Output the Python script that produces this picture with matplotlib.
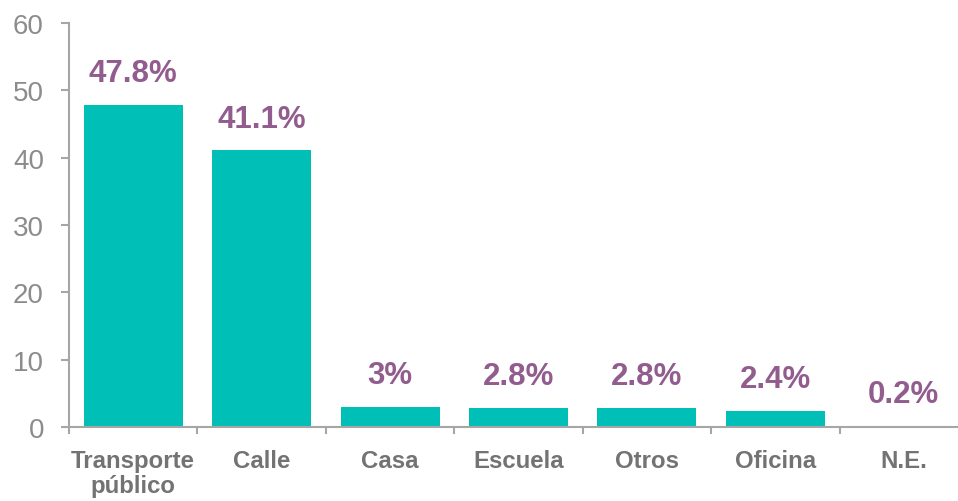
import matplotlib
matplotlib.use("Agg")
import matplotlib.pyplot as plt
import numpy as np

categories = ["Transporte\npúblico", "Calle", "Casa", "Escuela", "Otros", "Oficina", "N.E."]
values = [47.8, 41.1, 3, 2.8, 2.8, 2.4, 0.2]
value_labels = ["47.8%", "41.1%", "3%", "2.8%", "2.8%", "2.4%", "0.2%"]
yticks = [0, 10, 20, 30, 40, 50, 60]

plt.rcParams["font.family"] = ["Liberation Sans", "DejaVu Sans"]

BAR = "#00BFB7"
PURPLE = "#925C8F"
AXIS = "#A6A6A6"

fig = plt.figure(figsize=(9.58, 5.02), dpi=100)
ax = fig.add_axes([69 / 958, 74 / 502, (968 - 69) / 958, (428 - 24) / 502])

x = np.arange(len(categories))
ax.bar(x, values, width=0.77, color=BAR, zorder=2)

for xi, v, lab in zip(x, values, value_labels):
    ax.annotate(lab, (xi, v), xytext=(0, 12), textcoords="offset points",
                ha="center", va="bottom", fontsize=22.5, fontweight="bold",
                color=PURPLE)

ax.set_xlim(-0.5, 6.5)
ax.set_ylim(0, 60)
ax.set_yticks(yticks)
ax.set_xticks(x)
ax.set_xticklabels(categories, fontsize=17.3, fontweight="bold", color="#737373",
                   linespacing=1.12)
ax.set_xticks(np.arange(-0.5, 7, 1), minor=True)
ax.tick_params(axis="x", which="major", length=0, pad=16)
ax.tick_params(axis="x", which="minor", length=5, width=1.5, color=AXIS)
ax.tick_params(axis="y", length=6, width=1.5, color=AXIS, pad=12,
               labelsize=20, labelcolor="#8C8C8C")

for s in ["top", "right"]:
    ax.spines[s].set_visible(False)
for s in ["left", "bottom"]:
    ax.spines[s].set_color(AXIS)
    ax.spines[s].set_linewidth(1.5)

fig.savefig("out.png", dpi=100)
